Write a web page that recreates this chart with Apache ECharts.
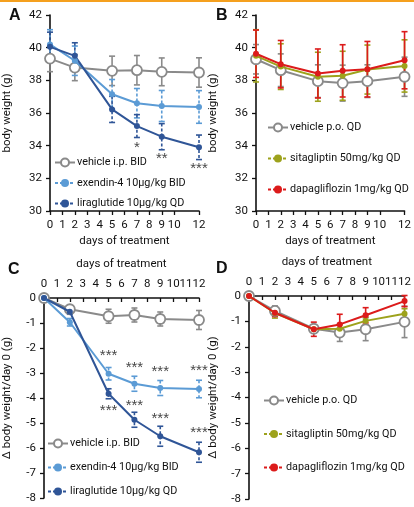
<!DOCTYPE html>
<html><head><meta charset="utf-8">
<script src="https://cdn.jsdelivr.net/npm/echarts@6/dist/echarts.min.js"></script>
<style>html,body{margin:0;padding:0;background:#fff}#c{width:414px;height:507px}</style>
</head><body><div id="c"></div>
<script>
const days = [0, 2, 5, 7, 9, 12];
// Panel A: body weight (g)
const vehIpA = [39.33, 38.78, 38.58, 38.62, 38.52, 38.48];
const vehIpAErr = [0.8, 0.8, 0.9, 0.9, 0.85, 0.9];
const exeA = [40.2, 39.2, 37.15, 36.6, 36.43, 36.37];
const exeAErr = [0.9, 0.9, 0.9, 0.9, 0.95, 1.0];
const liraA = [40.05, 39.5, 36.22, 35.2, 34.55, 33.9];
const liraAErr = [0.9, 0.8, 0.8, 0.7, 0.8, 0.75];
const starsA = [[7, 33.85, '*'], [9, 33.2, '**'], [12, 32.55, '***']];
// Panel B: body weight (g)
const vehPoB = [39.29, 38.62, 37.95, 37.83, 37.95, 38.22];
const vehPoBErr = [0.9, 1.0, 1.0, 1.1, 1.0, 1.2];
const sitaB = [39.5, 38.84, 38.22, 38.28, 38.66, 38.88];
const sitaBErr = [1.6, 1.4, 1.5, 1.5, 1.5, 1.6];
const dapaB = [39.63, 38.99, 38.42, 38.58, 38.68, 39.23];
const dapaBErr = [1.45, 1.45, 1.5, 1.6, 1.7, 1.75];
// Panel C: delta body weight (g)
const vehIpC = [0, -0.45, -0.73, -0.68, -0.84, -0.88];
const vehIpCErr = [0, 0.1, 0.28, 0.28, 0.28, 0.38];
const exeC = [0, -0.97, -3.03, -3.43, -3.6, -3.64];
const exeCErr = [0, 0.15, 0.25, 0.3, 0.3, 0.35];
const liraC = [0, -0.55, -3.83, -4.87, -5.53, -6.17];
const liraCErr = [0, 0.1, 0.2, 0.3, 0.4, 0.4];
const starsC = [[5, -2.3, '***'], [7, -2.8, '***'], [9, -2.95, '***'], [12, -2.93, '***'],
                [5, -4.5, '***'], [7, -4.3, '***'], [9, -4.82, '***'], [12, -5.4, '***']];
// Panel D: delta body weight (g)
const vehPoD = [0, -0.59, -1.29, -1.44, -1.31, -1.02];
const vehPoDErr = [0, 0.2, 0.15, 0.35, 0.45, 0.62];
const sitaD = [0, -0.67, -1.31, -1.29, -0.98, -0.7];
const sitaDErr = [0, 0.2, 0.1, 0.15, 0.15, 0.2];
const dapaD = [0, -0.66, -1.31, -1.12, -0.76, -0.2];
const dapaDErr = [0, 0.15, 0.28, 0.4, 0.3, 0.22];

const names = {
  vi: 'vehicle i.p. BID', ex: 'exendin-4 10µg/kg BID', li: 'liraglutide 10µg/kg QD',
  vp: 'vehicle p.o. QD', si: 'sitagliptin 50mg/kg QD', da: 'dapagliflozin 1mg/kg QD'
};
const GRAY = '#8a8a8a', LBLUE = '#5b9bd5', DBLUE = '#2f5597', OLIVE = '#9da21c', RED = '#dc1b1b';
const FONT = 'Roboto,"Liberation Sans",sans-serif';
const FS = 11.5;
const LFS = 10.8;

function pts(vals) { return days.map((d, i) => [d, vals[i]]); }
function errPts(vals, errs) { return days.map((d, i) => [d, vals[i], errs[i]]); }

function lineSeries(name, vals, color, idx, open) {
  return {
    type: 'line', name, xAxisIndex: idx, yAxisIndex: idx, data: pts(vals),
    symbol: 'circle', symbolSize: open ? 10 : 6, z: open ? 4 : 5,
    lineStyle: { color, width: 2 },
    itemStyle: open ? { color: '#fff', borderColor: color, borderWidth: 1.8 } : { color },
    animation: false
  };
}
function errSeries(vals, errs, color, idx, dashed) {
  return {
    type: 'custom', xAxisIndex: idx, yAxisIndex: idx, data: errPts(vals, errs), z: 3,
    animation: false, silent: true,
    renderItem: function (params, api) {
      const x = api.value(0), y = api.value(1), e = api.value(2);
      if (!e) return null;
      const t = api.coord([x, y + e]), b = api.coord([x, y - e]);
      const st = { stroke: color, lineWidth: 1.6, lineDash: dashed ? [3, 2] : null };
      const c = 3;
      return { type: 'group', children: [
        { type: 'line', shape: { x1: t[0], y1: t[1], x2: b[0], y2: b[1] }, style: st },
        { type: 'line', shape: { x1: t[0] - c, y1: t[1], x2: t[0] + c, y2: t[1] }, style: { stroke: color, lineWidth: 1.6 } },
        { type: 'line', shape: { x1: b[0] - c, y1: b[1], x2: b[0] + c, y2: b[1] }, style: { stroke: color, lineWidth: 1.6 } }
      ] };
    }
  };
}
function starSeries(data, idx) {
  return {
    type: 'scatter', xAxisIndex: idx, yAxisIndex: idx, data, symbolSize: 0, silent: true,
    animation: false, z: 6,
    label: { show: true, position: 'inside', formatter: p => p.data[2], fontSize: 15, color: '#111',
      fontFamily: '"Liberation Sans",sans-serif' }
  };
}

const axisLine = { show: true, onZero: false, lineStyle: { color: '#111', width: 1.6 } };
const labelStyle = { color: '#111', fontSize: FS, fontFamily: FONT, showMinLabel: true, showMaxLabel: true, hideOverlap: false };
function xAxis(idx, top) {
  return {
    type: 'value', gridIndex: idx, min: 0, max: 12, interval: 1, position: top ? 'top' : 'bottom',
    axisLine, splitLine: { show: false },
    axisTick: { show: true, inside: !!top, length: 4, lineStyle: { color: '#111', width: 1.3 } },
    axisLabel: Object.assign({ margin: 8 }, labelStyle),
    name: 'days of treatment', nameLocation: 'middle', nameGap: top ? 28 : 24,
    nameTextStyle: { color: '#111', fontSize: FS, fontFamily: FONT }
  };
}
function yAxis(idx, min, max, interval, name, gap) {
  return {
    type: 'value', gridIndex: idx, min, max, interval, axisLine, splitLine: { show: false },
    axisTick: { show: true, length: 4, lineStyle: { color: '#111', width: 1.3 } },
    axisLabel: Object.assign({ margin: 8 }, labelStyle),
    name, nameLocation: 'middle', nameGap: gap, nameRotate: 90,
    nameTextStyle: { color: '#111', fontSize: FS, fontFamily: FONT }
  };
}
function legend(left, top, gap, items) {
  return {
    orient: 'vertical', left, top, itemGap: gap, itemWidth: 20, itemHeight: 10, padding: 0,
    selectedMode: false, textStyle: { color: '#111', fontSize: LFS, fontFamily: FONT, padding: [0, 0, 0, -3] },
    data: items
  };
}
const dashed = { type: [3, 2] };

const option = {
  backgroundColor: '#fff',
  animation: false,
  grid: [
    { left: 49, top: 15, width: 150, height: 196 },
    { left: 256, top: 15, width: 150, height: 196 },
    { left: 39, top: 298, width: 160, height: 200 },
    { left: 249, top: 296, width: 159, height: 203 }
  ],
  xAxis: [xAxis(0, false), xAxis(1, false), xAxis(2, true), xAxis(3, true)],
  yAxis: [
    yAxis(0, 30, 42, 2, 'body weight (g)', 37),
    yAxis(1, 30, 42, 2, 'body weight (g)', 37),
    yAxis(2, -8, 0, 1, 'Δ body weight/day 0 (g)', 31),
    yAxis(3, -8, 0, 1, 'Δ body weight/day 0 (g)', 30)
  ],
  legend: [
    legend(54, 157, 9.5, [{ name: names.vi }, { name: names.ex, lineStyle: dashed }, { name: names.li, lineStyle: dashed }]),
    legend(267, 122, 20, [{ name: names.vp }, { name: names.si, lineStyle: dashed }, { name: names.da, lineStyle: dashed }]),
    legend(47, 438, 13, [{ name: names.vi }, { name: names.ex, lineStyle: dashed }, { name: names.li, lineStyle: dashed }]),
    legend(263, 395, 22.5, [{ name: names.vp }, { name: names.si, lineStyle: dashed }, { name: names.da, lineStyle: dashed }])
  ],
  graphic: [
    { type: 'rect', shape: { x: 0, y: 0, width: 414, height: 2 }, style: { fill: '#f5a01e' } },
    { type: 'text', left: 9, top: 8, style: { text: 'A', font: 'bold 16px "Liberation Sans",sans-serif', fill: '#111' } },
    { type: 'text', left: 216, top: 8, style: { text: 'B', font: 'bold 16px "Liberation Sans",sans-serif', fill: '#111' } },
    { type: 'text', left: 8, top: 262, style: { text: 'C', font: 'bold 16px "Liberation Sans",sans-serif', fill: '#111' } },
    { type: 'text', left: 216, top: 261, style: { text: 'D', font: 'bold 16px "Liberation Sans",sans-serif', fill: '#111' } }
  ],
  series: [
    errSeries(vehIpA, vehIpAErr, GRAY, 0, false),
    errSeries(exeA, exeAErr, LBLUE, 0, true),
    errSeries(liraA, liraAErr, DBLUE, 0, true),
    lineSeries(names.vi, vehIpA, GRAY, 0, true),
    lineSeries(names.ex, exeA, LBLUE, 0, false),
    lineSeries(names.li, liraA, DBLUE, 0, false),
    starSeries(starsA, 0),

    errSeries(vehPoB, vehPoBErr, GRAY, 1, false),
    errSeries(sitaB, sitaBErr, OLIVE, 1, false),
    errSeries(dapaB, dapaBErr, RED, 1, false),
    lineSeries(names.vp, vehPoB, GRAY, 1, true),
    lineSeries(names.si, sitaB, OLIVE, 1, false),
    lineSeries(names.da, dapaB, RED, 1, false),

    errSeries(vehIpC, vehIpCErr, GRAY, 2, false),
    errSeries(exeC, exeCErr, LBLUE, 2, true),
    errSeries(liraC, liraCErr, DBLUE, 2, true),
    lineSeries(names.vi, vehIpC, GRAY, 2, true),
    lineSeries(names.ex, exeC, LBLUE, 2, false),
    lineSeries(names.li, liraC, DBLUE, 2, false),
    starSeries(starsC, 2),

    errSeries(vehPoD, vehPoDErr, GRAY, 3, false),
    errSeries(sitaD, sitaDErr, OLIVE, 3, false),
    errSeries(dapaD, dapaDErr, RED, 3, false),
    lineSeries(names.vp, vehPoD, GRAY, 3, true),
    lineSeries(names.si, sitaD, OLIVE, 3, false),
    lineSeries(names.da, dapaD, RED, 3, false)
  ]
};
const chart = echarts.init(document.getElementById('c'), null, { renderer: 'canvas' });
chart.setOption(option);
</script>
</body></html>
